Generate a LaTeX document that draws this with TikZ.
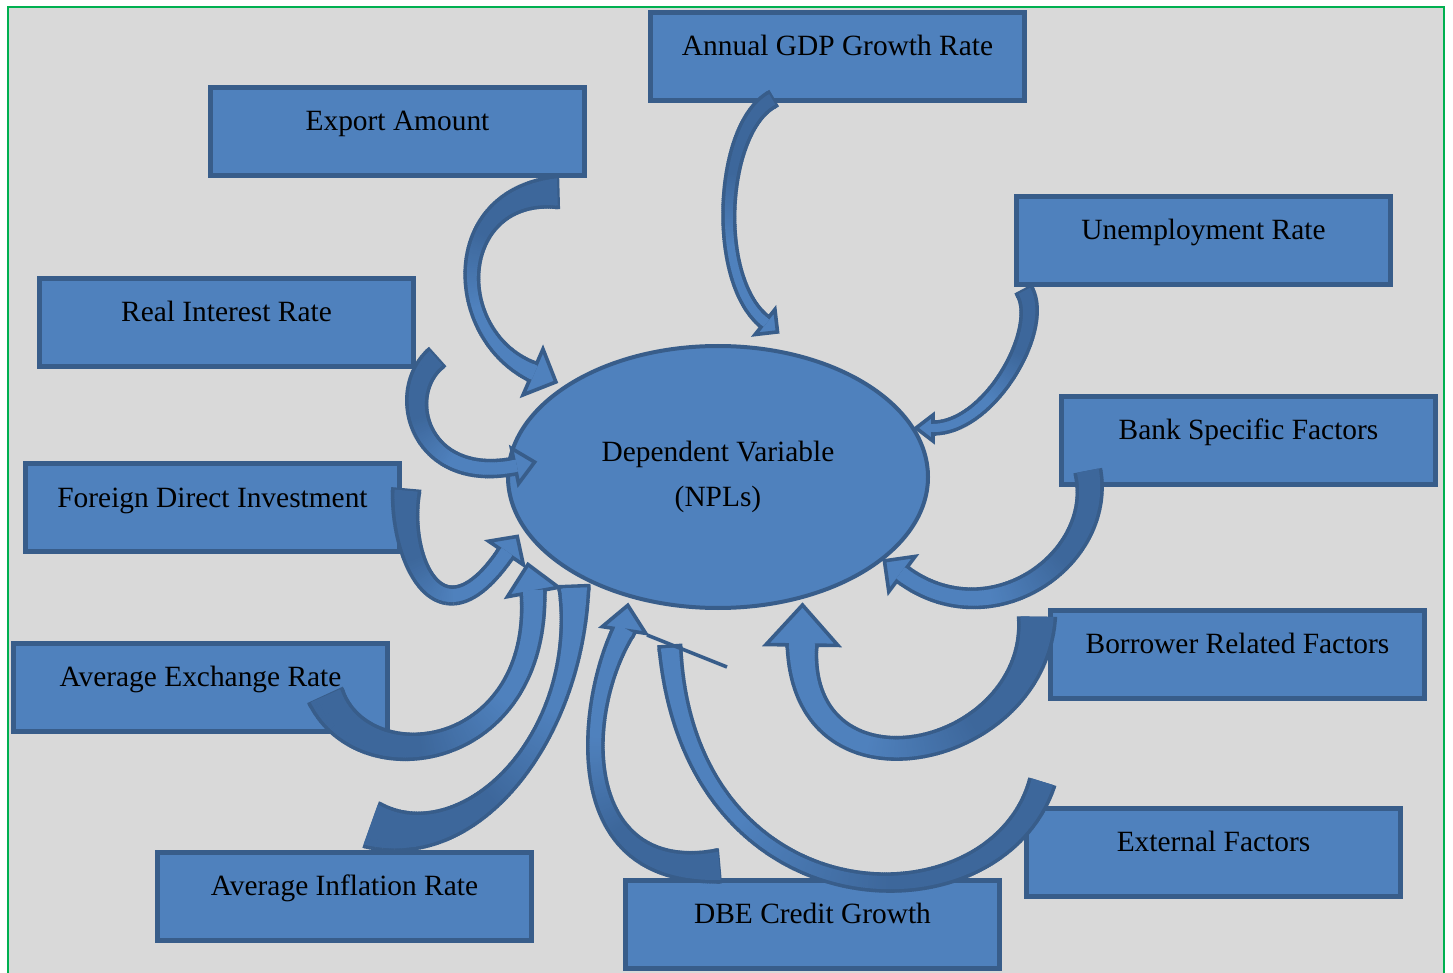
\documentclass[tikz,border=0pt]{standalone}
\usepackage{fontspec}
\setmainfont{Liberation Serif}
\usetikzlibrary{decorations.markings,shapes.geometric,calc}
\definecolor{bgG}{HTML}{D9D9D9}
\definecolor{frG}{HTML}{00B050}
\definecolor{boxF}{HTML}{4F81BD}
\definecolor{boxB}{HTML}{385D8A}
\definecolor{arD}{HTML}{3D679B}
\newif\ifcahead
\pgfkeys{/ca/.cd,
  w0/.store in=\caA, wm/.store in=\caM, w1/.store in=\caB,
  hl/.store in=\caHL, hw/.store in=\caHW, hr/.store in=\caR,
  head/.is if=cahead}
\newcommand\caWidth{%
  \pgfmathsetmacro\caT{min(1,max(0,\pgfkeysvalueof{/pgf/decoration/mark info/distance from start}/\pgfdecoratedpathlength))}%
  \pgfmathsetmacro\caH{0.25*(\caA*(1-\caT)*(1-2*\caT)+4*\caM*\caT*(1-\caT)+\caB*\caT*(2*\caT-1))}%
  \pgfmathsetmacro\caHo{\caH+1.8}%
  \pgfmathsetmacro\caC{100*min(1,max(0,(\caT-0.35)/0.3))}%
}
% #1 options, #2 tail, #3 control 1, #4 control 2, #5 head end
\newcommand\CA[5]{%
  \begingroup
  \pgfkeys{/ca/.cd,w0=10,wm=10,w1=10,hl=16,hw=16,hr=0,head=true,#1}%
  \pgfmathsetmacro\caHLp{\caHL*0.5}%
  \pgfmathsetmacro\caHWp{\caHW*0.5}%
  \pgfmathsetmacro\caHb{\caB*0.25}%
  \pgfmathsetmacro\caHbo{\caB*0.25+1.8}%
  % border pass
  \path[decorate,decoration={markings,
     mark=between positions 0 and 1 step 1pt with {\caWidth\fill[color=boxB] (-0.7pt,-\caHo pt) rectangle (0.7pt,\caHo pt);},
     mark=at position 0 with {\caWidth\fill[color=boxB] (-1.8pt,-\caHo pt) rectangle (0.7pt,\caHo pt);}}]
     (#2) .. controls (#3) and (#4) .. (#5);
  % end cap border
  \path[fill=boxB] let \p1=($(#5)-(#4)$), \n1={atan2(\y1,\x1)} in
     ($(#5)+(\n1+90:\caHbo pt)+(\n1:1.8pt)$) -- ($(#5)+(\n1-90:\caHbo pt)+(\n1:1.8pt)$) --
     ($(#5)+(\n1-90:\caHbo pt)+(\n1:-1.5pt)$) -- ($(#5)+(\n1+90:\caHbo pt)+(\n1:-1.5pt)$) -- cycle;
  \ifcahead
  \path[fill=boxF, draw=boxB, line width=1.8pt, line join=miter] let \p1=($(#5)-(#4)$), \n1={atan2(\y1,\x1)+\caR} in
     ($(#5)+(\n1+90:\caHWp pt)$) -- ($(#5)+(\n1:\caHLp pt)$) -- ($(#5)+(\n1-90:\caHWp pt)$) -- cycle;
  \fi
  % fill pass
  \path[decorate,decoration={markings,
     mark=between positions 0 and 1 step 1pt with {\caWidth\fill[color=boxF!\caC!arD] (-0.7pt,-\caH pt) rectangle (0.7pt,\caH pt);}}]
     (#2) .. controls (#3) and (#4) .. (#5);
  \ifcahead
  \path[fill=boxF] let \p1=($(#5)-(#4)$), \n1={atan2(\y1,\x1)} in
     ($(#5)+(\n1+90:\caHb pt)+(\n1:0.95pt)$) -- ($(#5)+(\n1-90:\caHb pt)+(\n1:0.95pt)$) --
     ($(#5)+(\n1-90:\caHb pt)+(\n1:-1.5pt)$) -- ($(#5)+(\n1+90:\caHb pt)+(\n1:-1.5pt)$) -- cycle;
  \else
  \path[fill=boxF] let \p1=($(#5)-(#4)$), \n1={atan2(\y1,\x1)} in
     ($(#5)+(\n1+90:\caHb pt)$) -- ($(#5)+(\n1-90:\caHb pt)$) --
     ($(#5)+(\n1-90:\caHb pt)+(\n1:-1.5pt)$) -- ($(#5)+(\n1+90:\caHb pt)+(\n1:-1.5pt)$) -- cycle;
  \fi
  \endgroup
}
\tikzset{
  box/.style={draw=boxB, fill=boxF, line width=2.5pt, minimum width=187pt, minimum height=44pt, inner sep=0pt},
  npl/.style={draw=boxB, fill=boxF, line width=2pt, ellipse, minimum width=210pt, minimum height=131pt, inner sep=0pt, align=center, font=\fontsize{14.7}{22.5}\selectfont},
  lbl/.style={inner sep=0pt, anchor=base, font=\fontsize{14.7}{17}\selectfont},
  edgeln/.style={draw=boxB, line width=1.8pt}
}
\begin{document}
\begin{tikzpicture}[x=0.5pt,y=-0.5pt]
\useasboundingbox (0,0) rectangle (1453,973);
\clip (0,0) rectangle (1453,973);
\fill[white] (0,0) rectangle (1453,973);
\fill[bgG] (8,7) rectangle (1444,990);
\draw[frG, line width=1.4pt] (8,990) -- (8,7) -- (1444,7) -- (1444,990);
% boxes
\node[box] (gdp) at (837.5,56.5) {};
\node[box] (exp) at (397.5,131.5) {};
\node[box] (une) at (1203.5,240.5) {};
\node[box] (rir) at (226.5,322.5) {};
\node[box] (bank) at (1248.5,440.5) {};
\node[box] (fdi) at (212.5,508) {};
\node[box] (bor) at (1237.5,654.5) {};
\node[box] (exr) at (200.5,687.5) {};
\node[box] (ext) at (1213.5,852) {};
\node[box] (inf) at (344.5,896.5) {};
\node[box] (dbe) at (812.5,924.5) {};
\node[npl] (dv) at (718,477) {Dependent Variable\\(NPLs)};
% arrow end points
\coordinate (gdp-t) at (771,100);  \coordinate (gdp-h) at (765,322);
\coordinate (exp-t) at (556,192);  \coordinate (exp-h) at (533,372);
\coordinate (rir-t) at (435,359);  \coordinate (rir-h) at (515,466);
\coordinate (une-t) at (1025,292); \coordinate (une-h) at (933,428);
\coordinate (bank-t) at (1088,472); \coordinate (bank-h) at (902,574);
\coordinate (fdi-t) at (406,492);  \coordinate (fdi-h) at (506,553);
\coordinate (bor-t) at (1037,618); \coordinate (bor-h) at (802,645);
\coordinate (exr-t) at (326,697);  \coordinate (exr-h) at (533,592);
\coordinate (inf-t) at (372,825);  \coordinate (inf-h) at (574,588);
\coordinate (dbe-t) at (718,866);  \coordinate (dbe-h) at (624,630);
\coordinate (ext-t) at (1042,783); \coordinate (ext-h) at (670,648);
\coordinate (ext-a) at (647,635);  \coordinate (ext-b) at (727,667);
% arrows
\CA{w0=12,wm=8,w1=9,hl=16,hw=16}{gdp-t}{720,130}{712,280}{gdp-h}
\CA{w0=27,wm=10,w1=15,hl=25,hw=25}{exp-t}{448,195}{448,335}{exp-h}
\CA{w0=19,wm=14,w1=12,hl=20,hw=18}{rir-t}{395,395}{420,485}{rir-h}
\CA{w0=13,wm=10,w1=8,hl=17,hw=13}{une-t}{1045,330}{990,428}{une-h}
\CA{w0=22,wm=16,w1=14,hl=22,hw=22}{bank-t}{1105,560}{990,640}{bank-h}
\CA{w0=23,wm=14,w1=13,hl=20,hw=21}{fdi-t}{400,560}{440,650}{fdi-h}
\CA{w0=33,wm=18,w1=26,hl=40,hw=36}{bor-t}{1035,760}{800,810}{bor-h}
\CA{w0=42,wm=14,w1=26,head=false}{inf-t}{470,860}{580,740}{inf-h}
\CA{w0=32,wm=18,w1=20,hl=28,hw=26,hr=8}{exr-t}{365,785}{540,760}{exr-h}
\CA{w0=28,wm=12,w1=18,hl=25,hw=22,hr=20}{dbe-t}{570,880}{580,710}{dbe-h}
\CA{w0=22,wm=12,w1=18,head=false}{ext-t}{995,935}{690,930}{ext-h}
\draw[edgeln] (ext-a) -- (ext-b);
% labels
\node[lbl] (gdpL) at (837.5,55.5) {Annual GDP Growth Rate};
\node[lbl] (expL) at (397.5,130.5) {Export Amount};
\node[lbl] (uneL) at (1203.5,239.5) {Unemployment Rate};
\node[lbl] (rirL) at (226.5,321.5) {Real Interest Rate};
\node[lbl] (bankL) at (1248.5,439.5) {Bank Specific Factors};
\node[lbl] (fdiL) at (212.5,507.5) {Foreign Direct Investment};
\node[lbl] (borL) at (1237.5,653.5) {Borrower Related Factors};
\node[lbl] (exrL) at (200.5,686.5) {Average Exchange Rate};
\node[lbl] (extL) at (1213.5,851.5) {External Factors};
\node[lbl] (infL) at (344.5,895.5) {Average Inflation Rate};
\node[lbl] (dbeL) at (812.5,923.5) {DBE Credit Growth};
\end{tikzpicture}
\end{document}
